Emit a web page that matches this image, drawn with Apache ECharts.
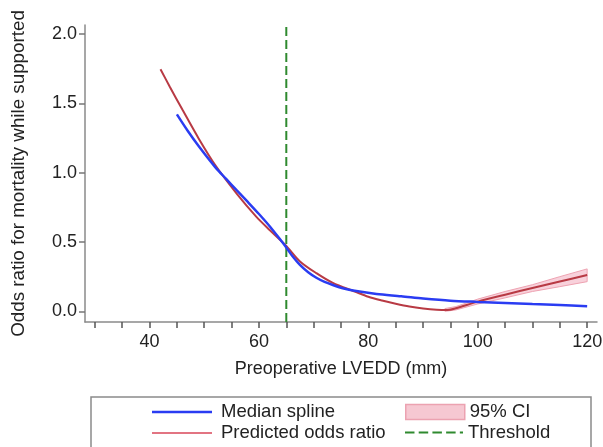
<!DOCTYPE html>
<html>
<head>
<meta charset="utf-8">
<script src="https://cdn.jsdelivr.net/npm/echarts@6/dist/echarts.min.js"></script>
<style>
  html, body { margin: 0; padding: 0; background: #fff; }
  #chart { width: 603px; height: 447px; }
</style>
</head>
<body>
<div id="chart"></div>
<script>
const medianX = [45, 47, 49, 52, 54, 56, 58, 60, 62, 64, 65, 66, 67.5, 69, 70.5, 72, 73.5, 75.5, 77.5, 81.5, 86, 90, 95, 100, 105, 110, 115, 120];
const medianY = [1.42, 1.30, 1.19, 1.04, 0.955, 0.87, 0.787, 0.702, 0.612, 0.512, 0.46, 0.405, 0.335, 0.282, 0.242, 0.212, 0.19, 0.165, 0.148, 0.125, 0.109, 0.093, 0.077, 0.068, 0.06, 0.052, 0.045, 0.037];

const predX = [42, 43.7, 46, 49, 52, 56, 59.5, 62, 65, 67.5, 70.5, 73.5, 77.5, 80, 82.5, 85, 87.5, 90, 92.5, 94.5, 96, 100, 105, 110, 115, 120];
const predY = [1.746, 1.62, 1.455, 1.245, 1.055, 0.845, 0.683, 0.585, 0.472, 0.36, 0.275, 0.205, 0.143, 0.105, 0.078, 0.055, 0.035, 0.021, 0.012, 0.01, 0.022, 0.07, 0.12, 0.168, 0.215, 0.262];

const ciX = [94, 96, 100, 105, 110, 115, 120];
const ciLower = [0.0, 0.01, 0.053, 0.097, 0.143, 0.178, 0.214];
const ciUpper = [0.02, 0.034, 0.088, 0.143, 0.192, 0.25, 0.306];

const threshold = 65;

const xTicks = [30, 35, 40, 45, 50, 55, 60, 65, 70, 75, 80, 85, 90, 95, 100, 105, 110, 115, 120];
const xLabels = [40, 60, 80, 100, 120];
const yLabels = [0, 0.5, 1, 1.5, 2];

const xMin = 28.2, xMax = 121.8;
const yMin = -0.077, yMax = 2.065;

const FONT = 'Liberation Sans, Arial, Helvetica, sans-serif';
const DASH_ICON = 'path://M0 0h9v2h-9z M13 0h9v2h-9z M26 0h9v2h-9z M39 0h9v2h-9z M52 0h3v2h-3z';

function pairs(xs, ys) {
  return xs.map((x, i) => [x, ys[i]]);
}

function legendItem(item, left, top, w, h, icon, extra) {
  return Object.assign({
    data: [item],
    left: left,
    top: top,
    padding: 0,
    itemWidth: w,
    itemHeight: h,
    icon: icon,
    symbolKeepAspect: false,
    selectedMode: false,
    textStyle: { fontSize: 18.5, color: '#222', fontFamily: FONT }
  }, extra || {});
}

const chart = echarts.init(document.getElementById('chart'), null, { renderer: 'canvas' });

chart.setOption({
  animation: false,
  backgroundColor: '#ffffff',
  textStyle: { fontFamily: FONT },
  grid: { left: 85, right: 6, top: 25, bottom: 125, containLabel: false, outerBoundsMode: 'none' },
  xAxis: {
    type: 'value',
    min: xMin,
    max: xMax,
    name: 'Preoperative LVEDD (mm)',
    nameLocation: 'middle',
    nameGap: 38,
    nameTextStyle: { fontSize: 18, color: '#222', fontFamily: FONT },
    axisLine: { show: true, onZero: false, lineStyle: { color: '#8a8a8a', width: 1.5 } },
    axisTick: { show: true, length: 6, customValues: xTicks, lineStyle: { color: '#555', width: 1.5 } },
    axisLabel: { customValues: xLabels, fontSize: 18, color: '#222', margin: 11, fontFamily: FONT },
    splitLine: { show: false }
  },
  yAxis: {
    type: 'value',
    min: yMin,
    max: yMax,
    name: 'Odds ratio for mortality while supported',
    nameLocation: 'middle',
    nameGap: 57,
    nameTextStyle: { fontSize: 18.8, color: '#222', fontFamily: FONT },
    axisLine: { show: true, onZero: false, lineStyle: { color: '#8a8a8a', width: 1.5 } },
    axisTick: { show: true, length: 6, customValues: yLabels, lineStyle: { color: '#777', width: 1.5 } },
    axisLabel: {
      customValues: yLabels,
      fontSize: 18,
      color: '#222',
      margin: 8,
      fontFamily: FONT,
      formatter: v => v.toFixed(1)
    },
    splitLine: { show: false }
  },
  legend: [
    legendItem({ name: 'Median spline', itemStyle: { color: '#2a3cf2' } }, 152, 402.5, 60, 2.5, 'rect',
      { textStyle: { fontSize: 18.5, color: '#222', fontFamily: FONT, padding: [0, 0, 0, 4] } }),
    legendItem({ name: 'Predicted odds ratio', itemStyle: { color: '#e27482' } }, 152, 423.5, 60, 2, 'rect',
      { textStyle: { fontSize: 18.5, color: '#222', fontFamily: FONT, padding: [0, 0, 0, 4] } }),
    legendItem({ name: '95% CI', itemStyle: { color: '#f6c8d2', borderColor: '#eca2b1', borderWidth: 1.5 } }, 405, 402.5, 59, 15, 'rect'),
    legendItem({ name: 'Threshold', itemStyle: { color: '#2f8a2f' } }, 405, 423, 58, 2, DASH_ICON)
  ],
  graphic: [
    {
      type: 'rect',
      shape: { x: 91, y: 397, width: 500, height: 70 },
      style: { fill: 'none', stroke: '#8a8a8a', lineWidth: 1.5 },
      silent: true
    }
  ],
  series: [
    {
      name: 'Threshold',
      type: 'line',
      data: [[threshold, yMin], [threshold, yMax]],
      symbol: 'none',
      lineStyle: { color: '#2f8a2f', width: 2, type: [9, 4] },
      itemStyle: { color: '#2f8a2f' },
      z: 1
    },
    {
      name: '95% CI',
      type: 'custom',
      data: [[ciX[0], ciLower[0]]],
      silent: true,
      itemStyle: { color: '#f6c8d2' },
      renderItem: function (params, api) {
        const top = ciX.map((x, i) => api.coord([x, ciUpper[i]]));
        const bottom = ciX.map((x, i) => api.coord([x, ciLower[i]])).reverse();
        return {
          type: 'polygon',
          shape: { points: top.concat(bottom), smooth: 0 },
          style: { fill: 'rgba(244, 178, 195, 0.6)', stroke: '#eea3b2', lineWidth: 1 }
        };
      },
      z: 2
    },
    {
      name: 'Predicted odds ratio',
      type: 'line',
      data: pairs(predX, predY),
      symbol: 'none',
      smooth: 0.3,
      lineStyle: { color: '#b83a44', width: 2 },
      itemStyle: { color: '#e27482' },
      z: 3
    },
    {
      name: 'Median spline',
      type: 'line',
      data: pairs(medianX, medianY),
      symbol: 'none',
      smooth: 0.3,
      lineStyle: { color: '#2a3cf2', width: 2.5 },
      itemStyle: { color: '#2a3cf2' },
      z: 4
    }
  ]
});
</script>
</body>
</html>
